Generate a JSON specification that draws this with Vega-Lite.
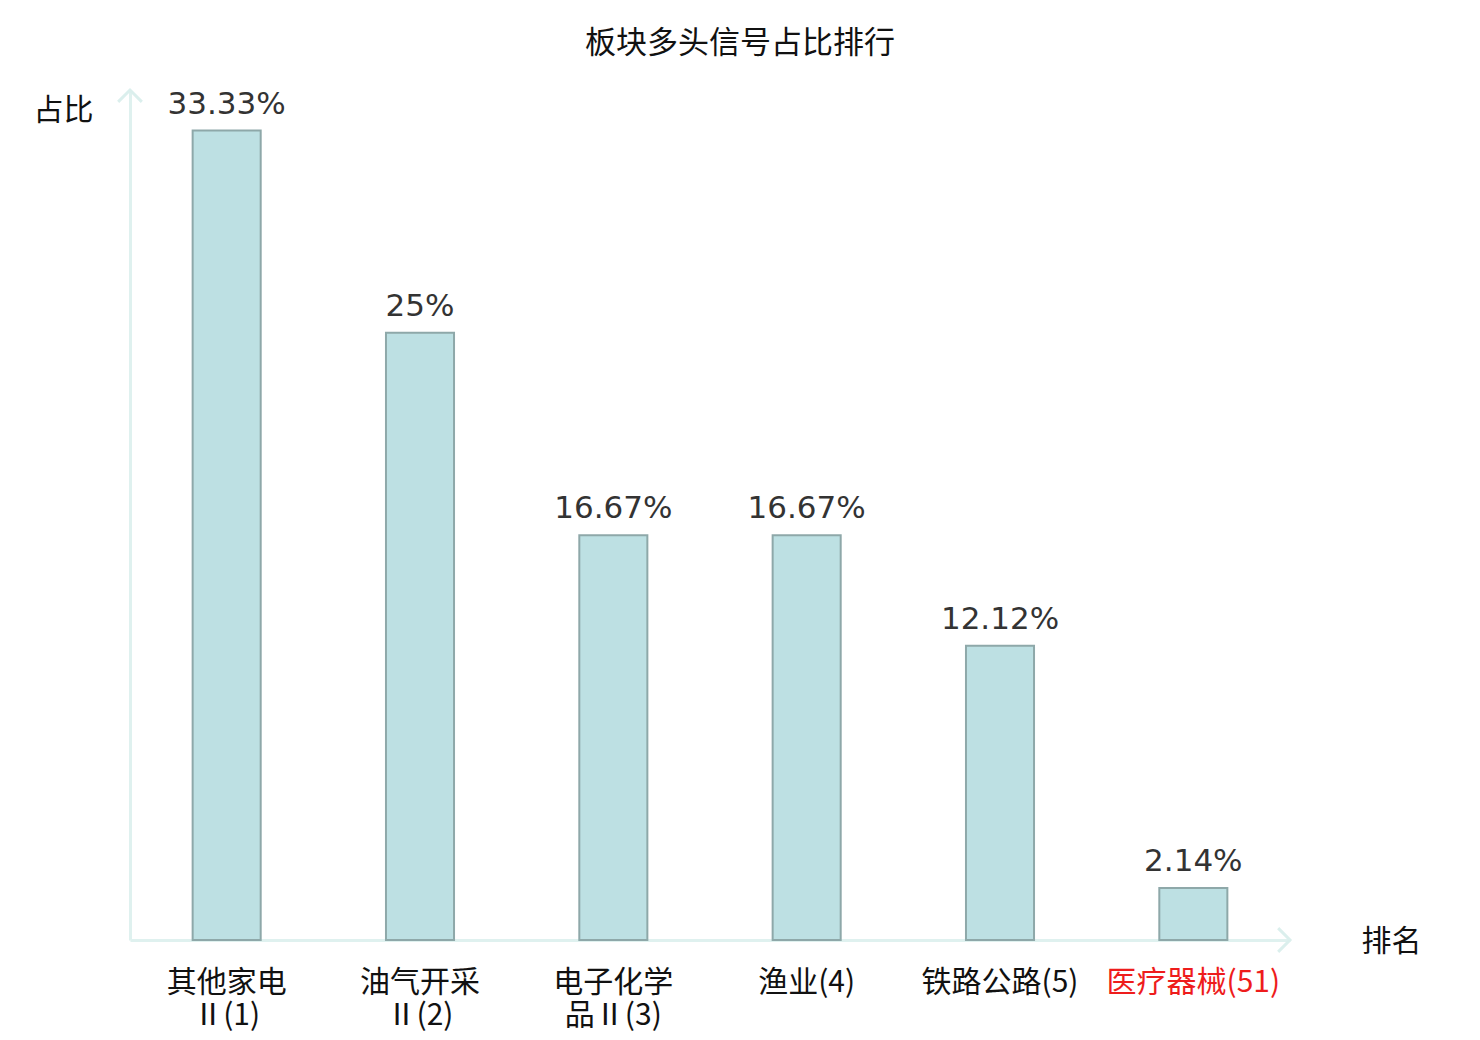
{
  "$schema": "https://vega.github.io/schema/vega-lite/v6.json",
  "width": 1160,
  "height": 850,
  "autosize": {"type": "none"},
  "padding": {"left": 130, "top": 90, "right": 190, "bottom": 100},
  "background": "white",
  "config": {
    "view": {"stroke": null},
    "axis": {"labelFont": "Noto Sans CJK SC", "titleFont": "Noto Sans CJK SC"},
    "title": {"font": "Noto Sans CJK SC"}
  },
  "title": {
    "text": "板块多头信号占比排行",
    "fontSize": 31,
    "fontWeight": "normal",
    "color": "#111111",
    "anchor": "middle",
    "offset": 24,
    "dx": 30
  },
  "datasets": {
    "bars": [
      {"label": "其他家电\nⅡ(1)", "ratio": 0.3333},
      {"label": "油气开采\nⅡ(2)", "ratio": 0.25},
      {"label": "电子化学\n品Ⅱ(3)", "ratio": 0.1667},
      {"label": "渔业(4)", "ratio": 0.1667},
      {"label": "铁路公路(5)", "ratio": 0.1212},
      {"label": "医疗器械(51)", "ratio": 0.0214}
    ],
    "arrows": [
      {"ax": 0, "ay": 0.35, "dir": "up"},
      {"ax": 1, "ay": 0, "dir": "right"}
    ]
  },
  "layer": [
    {
      "data": {"name": "bars"},
      "encoding": {
        "x": {
          "field": "label",
          "type": "nominal",
          "sort": null,
          "scale": {"paddingInner": 0.648, "paddingOuter": 0.324},
          "axis": {
            "title": "排名",
            "titleFontSize": 30,
            "titleFontWeight": "normal",
            "titleColor": "#111111",
            "titleAngle": 0,
            "titleX": 1261,
            "titleY": 1,
            "titleAlign": "center",
            "titleBaseline": "middle",
            "labelExpr": "split(datum.label, '\\n')",
            "labelAngle": 0,
            "labelFontSize": 30,
            "labelLineHeight": 33,
            "labelPadding": 27,
            "labelColor": {
              "condition": {"test": "indexof(datum.label, '(51)') >= 0", "value": "#ee1c1c"},
              "value": "#111111"
            },
            "labelLimit": 300,
            "ticks": false,
            "domainColor": "#dff1ef",
            "domainWidth": 3
          }
        },
        "y": {
          "field": "ratio",
          "type": "quantitative",
          "scale": {"domain": [0, 0.35], "nice": false},
          "axis": {
            "title": "占比",
            "titleFontSize": 30,
            "titleFontWeight": "normal",
            "titleColor": "#111111",
            "titleAngle": 0,
            "titleX": -67,
            "titleY": 20,
            "titleAlign": "center",
            "titleBaseline": "middle",
            "labels": false,
            "ticks": false,
            "grid": false,
            "domainColor": "#dff1ef",
            "domainWidth": 3
          }
        }
      },
      "layer": [
        {
          "mark": {"type": "bar", "fill": "#bde0e3", "stroke": "#8ea8a9", "strokeWidth": 2}
        },
        {
          "mark": {"type": "text", "font": "DejaVu Sans", "fontSize": 31, "color": "#333333", "baseline": "alphabetic", "dy": -17},
          "encoding": {
            "text": {"field": "ratio", "type": "quantitative", "format": ".2~%"}
          }
        }
      ]
    },
    {
      "data": {"name": "arrows"},
      "mark": {"type": "point", "filled": false, "stroke": "#dbefed", "strokeWidth": 3, "size": 560, "opacity": 1},
      "encoding": {
        "x": {"field": "ax", "type": "quantitative", "scale": {"domain": [0, 1], "nice": false}, "axis": null},
        "y": {"field": "ay", "type": "quantitative"},
        "shape": {
          "field": "dir",
          "type": "nominal",
          "scale": {"domain": ["up", "right"], "range": ["M-1,1L0,0L1,1", "M-1,-1L0,0L-1,1"]},
          "legend": null
        }
      }
    }
  ],
  "resolve": {"scale": {"x": "independent"}}
}
